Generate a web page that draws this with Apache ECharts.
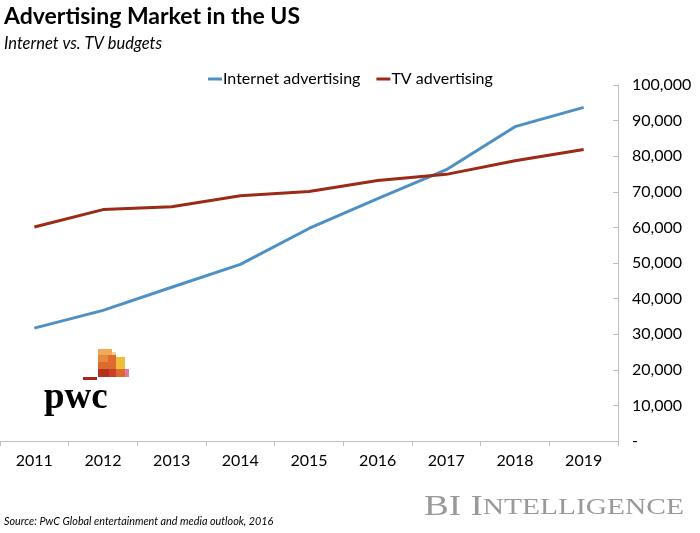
<!DOCTYPE html>
<html>
<head>
<meta charset="utf-8">
<script src="https://cdn.jsdelivr.net/npm/echarts@6/dist/echarts.min.js"></script>
<style>
html,body{margin:0;padding:0;background:#fff;}
#chart{width:700px;height:533px;}
</style>
</head>
<body>
<div id="chart"></div>
<script>
const years = ['2011','2012','2013','2014','2015','2016','2017','2018','2019'];
const internetAdvertising = [31700, 36700, 43200, 49600, 59700, 68100, 76200, 88300, 93700];
const tvAdvertising = [60100, 65000, 65800, 68900, 70100, 73200, 74900, 78700, 81900];
const yTicks = [0, 10000, 20000, 30000, 40000, 50000, 60000, 70000, 80000, 90000, 100000];

const chart = echarts.init(document.getElementById('chart'));
const font = 'Lato, "Open Sans", sans-serif';
chart.setOption({
  animation: false,
  backgroundColor: '#fff',
  title: [
    {text: 'Advertising Market in the US', left: 4, top: 5, padding: 0,
     textStyle: {fontFamily: font, fontWeight: 'bold', fontSize: 23, color: '#000'}},
    {text: 'Internet vs. TV budgets', left: 4, top: 35, padding: 0,
     textStyle: {fontFamily: font, fontStyle: 'italic', fontWeight: 'normal', fontSize: 16.5, color: '#000'}},
    {text: 'Source: PwC Global entertainment and media outlook, 2016', left: 4, top: 516, padding: 0,
     textStyle: {fontFamily: font, fontStyle: 'italic', fontWeight: 'normal', fontSize: 10.8, color: '#000'}}
  ],
  legend: {
    top: 66, left: 203, itemGap: 16, itemWidth: 14, itemHeight: 3, icon: 'rect',
    textStyle: {fontFamily: font, fontSize: 16, color: '#000', padding: [0,0,0,-4]},
    data: ['Internet advertising', 'TV advertising']
  },
  grid: {left: 0, right: 82, top: 85, bottom: 92, containLabel: false},
  xAxis: {
    type: 'category', data: years, boundaryGap: true,
    axisLine: {lineStyle: {color: '#bfbfbf', width: 1}},
    axisTick: {show: true, length: 5, lineStyle: {color: '#bfbfbf'}},
    axisLabel: {fontFamily: font, fontSize: 16, color: '#000', margin: 12}
  },
  yAxis: {
    type: 'value', position: 'right', min: yTicks[0], max: yTicks[yTicks.length-1], interval: 10000,
    axisLine: {show: true, lineStyle: {color: '#bfbfbf', width: 1}},
    axisTick: {show: true, inside: true, length: 5, lineStyle: {color: '#bfbfbf'}},
    splitLine: {show: false},
    axisLabel: {fontFamily: font, fontSize: 16, color: '#000', margin: 14,
      formatter: v => v === 0 ? '-' : v.toLocaleString('en-US')}
  },
  series: [
    {name: 'Internet advertising', type: 'line', data: internetAdvertising, symbol: 'none',
     lineStyle: {color: '#4f90c4', width: 3}, itemStyle: {color: '#4f90c4'}},
    {name: 'TV advertising', type: 'line', data: tvAdvertising, symbol: 'none',
     lineStyle: {color: '#9b2a17', width: 3}, itemStyle: {color: '#9b2a17'}}
  ],
  graphic: [
    {type: 'rect', shape: {x: 98, y: 349, width: 14, height: 6}, style: {fill: '#eeaa55'}},
    {type: 'rect', shape: {x: 112, y: 352, width: 4, height: 5}, style: {fill: '#f3cf9a'}},
    {type: 'rect', shape: {x: 98, y: 355, width: 18, height: 14}, style: {fill: '#df6a30'}},
    {type: 'rect', shape: {x: 98, y: 355, width: 10, height: 7}, style: {fill: '#e58a3c'}},
    {type: 'rect', shape: {x: 116, y: 357, width: 9, height: 12}, style: {fill: '#f0bd3a'}},
    {type: 'rect', shape: {x: 98, y: 369, width: 11, height: 8}, style: {fill: '#b5301d'}},
    {type: 'rect', shape: {x: 109, y: 369, width: 7, height: 8}, style: {fill: '#c9402a'}},
    {type: 'rect', shape: {x: 116, y: 369, width: 9, height: 8}, style: {fill: '#dc6a30'}},
    {type: 'rect', shape: {x: 125, y: 369, width: 4, height: 8}, style: {fill: '#e07aa2'}},
    {type: 'rect', shape: {x: 83, y: 377, width: 14, height: 3}, style: {fill: '#a8261a'}},
    {type: 'text', left: 44, top: 380,
     style: {text: 'pwc', fontFamily: '"Liberation Serif", serif', fontWeight: 'bold', fontSize: 37, fill: '#000'}},
    {type: 'text', x: 424, y: 493, scaleX: 1.28, scaleY: 1,
     style: {
       text: '{a|BI I}{b|NTELLIGENCE}',
       verticalAlign: 'top', align: 'left',
       rich: {
         a: {fontFamily: '"Liberation Serif", serif', fontSize: 29, fill: '#999'},
         b: {fontFamily: '"Liberation Serif", serif', fontSize: 23, fill: '#999'}
       }
     }}
  ]
});
</script>
</body>
</html>
